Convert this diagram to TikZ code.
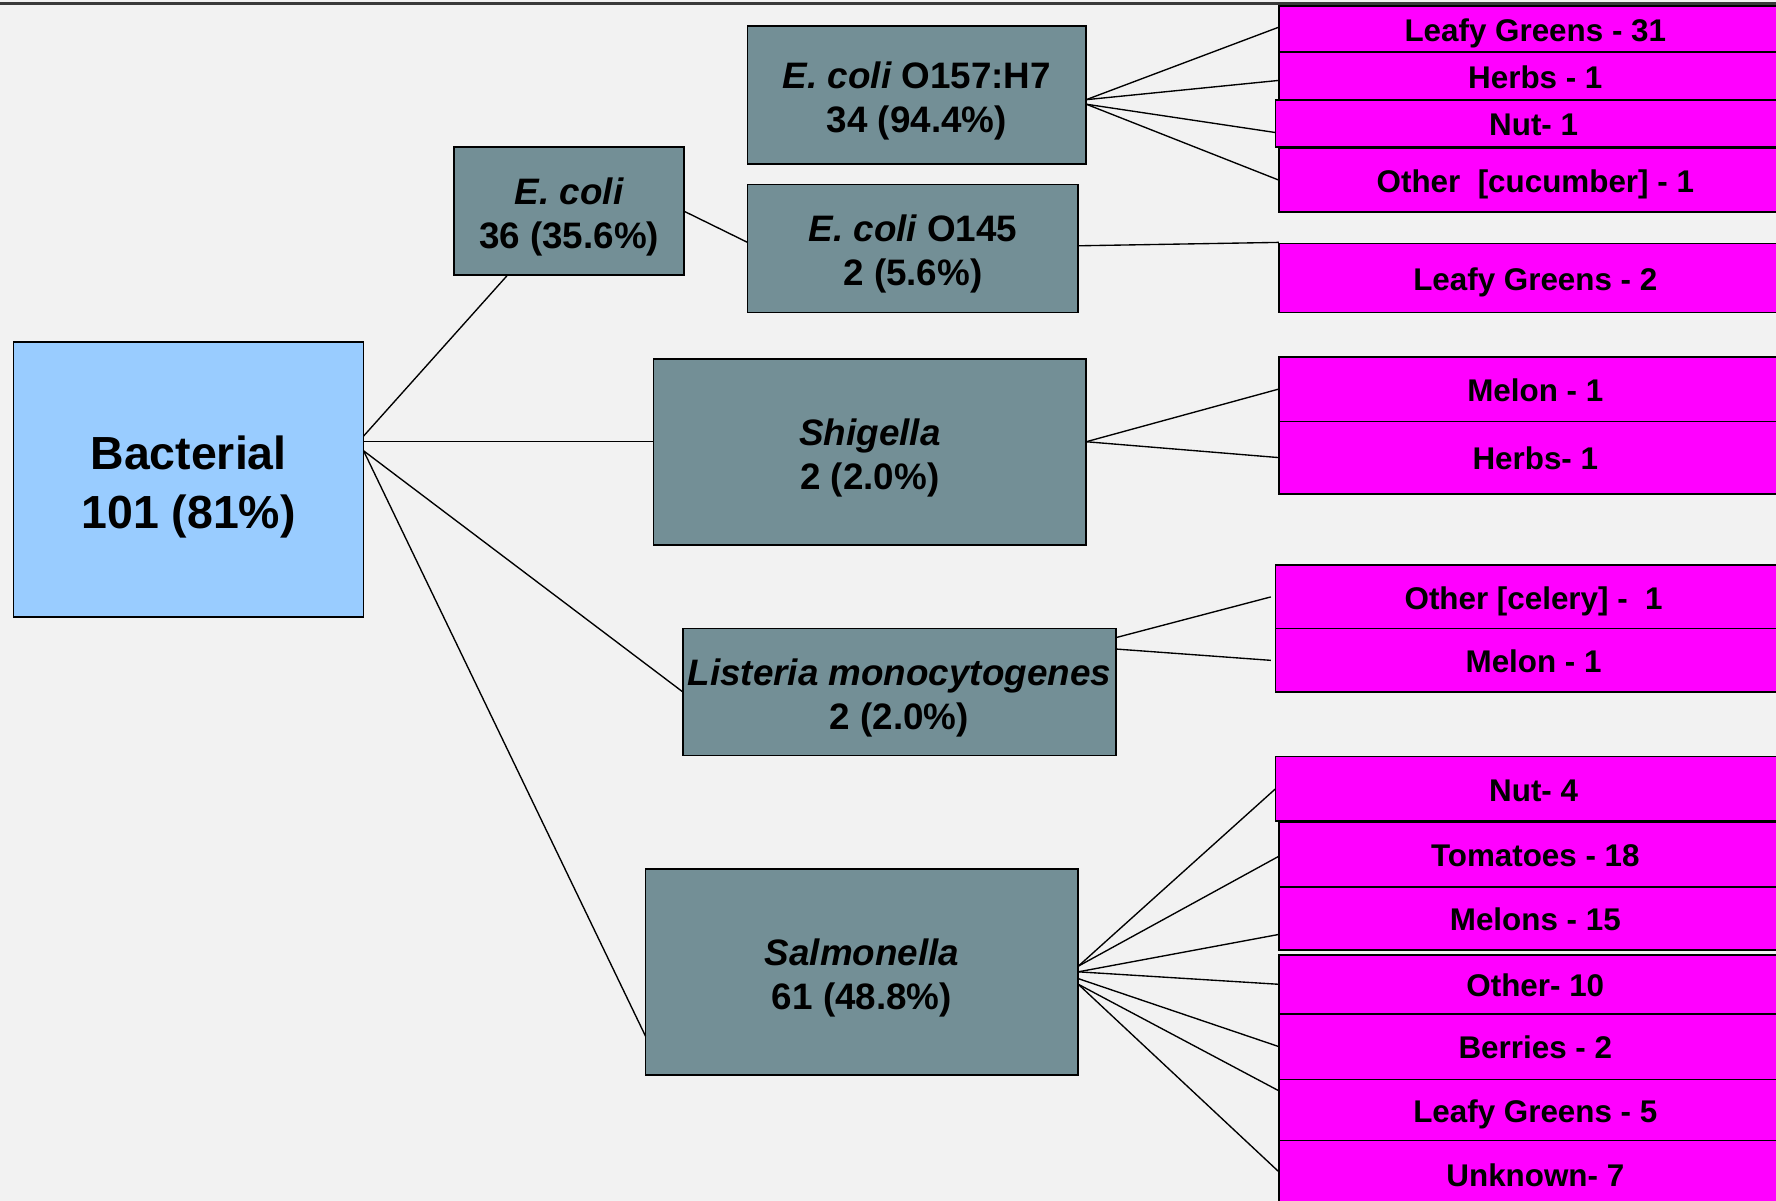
\documentclass[tikz,border=0pt]{standalone}
\usepackage{fontspec}
\setmainfont{Liberation Sans}
\usetikzlibrary{positioning}
\definecolor{bgc}{HTML}{F2F2F2}
\definecolor{bluec}{HTML}{99CCFF}
\definecolor{grayc}{HTML}{738F96}
\definecolor{pinkc}{HTML}{FF00FF}
\definecolor{topc}{HTML}{3A3A3A}
\tikzset{
  basebox/.style={draw=black, line width=1.5pt, inner sep=0pt, outer sep=0pt, align=center, text=black},
  rootbox/.style={basebox, fill=bluec, font=\fontsize{41}{52}\selectfont\bfseries, text height=86.4pt, text depth=0pt},
  gbox/.style={basebox, fill=grayc, font=\fontsize{32.5}{39}\selectfont\bfseries, text height=66pt, text depth=0pt},
  pbox/.style={basebox, fill=pinkc, anchor=north west, minimum width=453pt, font=\fontsize{27.7}{32}\selectfont\bfseries, text height=21.5pt, text depth=0pt},
  link/.style={draw=black, line width=1.2pt},
}
\newcommand{\spname}[1]{{\itshape #1}}
\begin{document}
\begin{tikzpicture}[x=1pt,y=-1pt]
\useasboundingbox (0,0) rectangle (1568,1060);
\fill[bgc] (0,0) rectangle (1568,1060);

% root
\node[rootbox, minimum width=309pt, minimum height=243pt] (bact) at (166.5,423.5) {Bacterial\\101 (81\%)};

% level 2
\node[gbox, minimum width=203pt, minimum height=113pt] (ecoli) at (502.5,186.5) {\spname{E. coli}\\36 (35.6\%)};
\node[gbox, minimum width=299pt, minimum height=122pt] (o157) at (809.5,84) {\spname{E. coli} O157:H7\\34 (94.4\%)};
\node[gbox, minimum width=292pt, minimum height=113pt] (o145) at (806,219.5) {\spname{E. coli} O145\\2 (5.6\%)};
\node[gbox, minimum width=382pt, minimum height=164pt] (shig) at (768,399) {\spname{Shigella}\\2 (2.0\%)};
\node[gbox, minimum width=382pt, minimum height=112pt] (list) at (794,611) {\spname{Listeria monocytogenes}\\2 (2.0\%)};
\node[gbox, minimum width=382pt, minimum height=182pt] (salm) at (761,858) {\spname{Salmonella}\\61 (48.8\%)};

% pink leaves
\node[pbox, minimum height=41pt] (p1) at (1129,5) {Leafy Greens - 31};
\node[pbox, minimum height=42pt] (p2) at (1129,46) {Herbs - 1};
\node[pbox, minimum height=42pt, minimum width=456pt] (p3) at (1126,88) {Nut- 1};
\node[pbox, minimum height=56pt] (p4) at (1129,131) {Other\ \ [cucumber] - 1};
\node[pbox, minimum height=61pt] (p5) at (1129,215) {Leafy Greens - 2};
\node[pbox, minimum height=57pt] (p6) at (1129,315) {Melon - 1};
\node[pbox, minimum height=64pt] (p7) at (1129,372) {Herbs- 1};
\node[pbox, minimum height=56pt, minimum width=456pt] (p8) at (1126,499) {Other [celery] -\ \ 1};
\node[pbox, minimum height=56pt, minimum width=456pt] (p9) at (1126,555) {Melon - 1};
\node[pbox, minimum height=57pt, minimum width=456pt] (s1) at (1126,668) {Nut- 4};
\node[pbox, minimum height=57pt] (s2) at (1129,726) {Tomatoes - 18};
\node[pbox, minimum height=56pt] (s3) at (1129,783) {Melons - 15};
\node[pbox, minimum height=52pt] (s4) at (1129,843) {Other- 10};
\node[pbox, minimum height=58pt] (s5) at (1129,895) {Berries - 2};
\node[pbox, minimum height=54pt] (s6) at (1129,953) {Leafy Greens - 5};
\node[pbox, minimum height=60pt] (s7) at (1129,1007) {Unknown- 7};

% top rule
\draw[topc, line width=2.6pt] (0,3) -- (1568,3);

% connectors from root
\draw[link] ([yshift=38.5pt]bact.east) -- ([xshift=-54.5pt]ecoli.south);
\draw[link] ([yshift=33.5pt]bact.east) -- ([yshift=9pt]shig.west);
\draw[link] ([yshift=25.5pt]bact.east) -- (list.west);
\draw[link] ([yshift=25.5pt]bact.east) -- ([yshift=-57pt]salm.west);

% E. coli
\draw[link] (ecoli.east) -- ([yshift=5.5pt]o145.west);
\draw[link] ([yshift=-4pt]o157.east) -- ([yshift=1.5pt]p1.west);
\draw[link] ([yshift=-4pt]o157.east) -- ([yshift=-4pt]p2.west);
\draw[link] ([yshift=-8pt]o157.east) -- ([yshift=-8pt]p3.west);
\draw[link] ([yshift=-8pt]o157.east) -- (p4.west);
\draw[link] ([yshift=2.5pt]o145.east) -- ([yshift=1pt]p5.north west);

% Shigella
\draw[link] ([yshift=9pt]shig.east) -- (p6.west);
\draw[link] ([yshift=9pt]shig.east) -- (p7.west);

% Listeria
\draw[link] ([yshift=-8pt]list.north east) -- ([xshift=-4pt]p8.west);
\draw[link] ([yshift=-18pt]list.north east) -- ([xshift=-4pt]p9.west);

% Salmonella
\draw[link] ([yshift=5pt]salm.east) -- (s1.west);
\draw[link] ([yshift=5pt]salm.east) -- ([yshift=-1.5pt]s2.west);
\draw[link] (salm.east) -- ([yshift=-14pt]s3.west);
\draw[link] (salm.east) -- (s4.west);
\draw[link] ([yshift=-6pt]salm.east) -- (s5.west);
\draw[link] ([yshift=-11pt]salm.east) -- ([yshift=17pt]s6.west);
\draw[link] ([yshift=-11pt]salm.east) -- ([yshift=2.5pt]s7.west);
\end{tikzpicture}
\end{document}
